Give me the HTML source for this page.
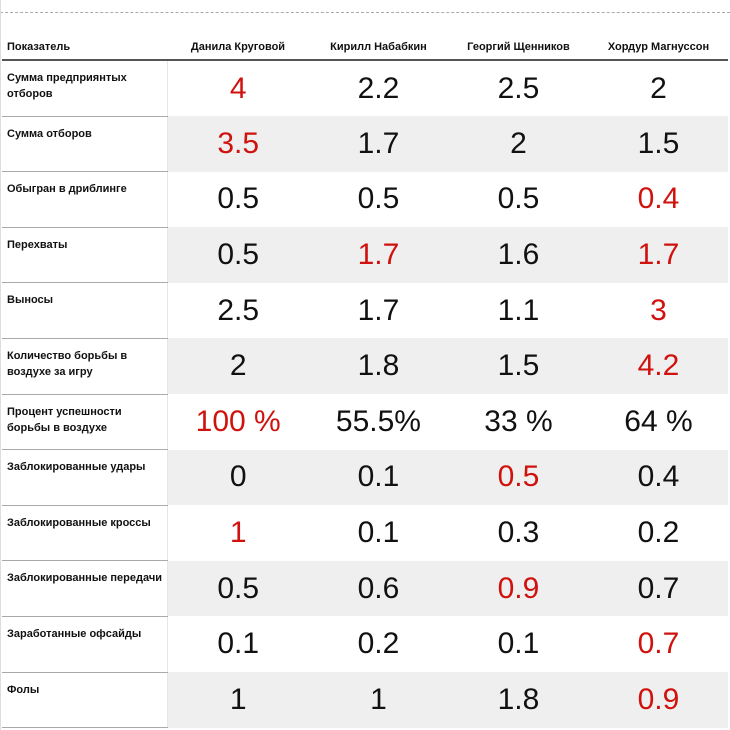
<!DOCTYPE html>
<html><head><meta charset="utf-8"><style>
body{margin:0;width:730px;height:730px;background:#fff;overflow:hidden;font-family:"Liberation Sans","DejaVu Sans",sans-serif;position:relative}
.dots{position:absolute;left:0;top:12px;width:730px;border-top:1px dashed #aaa}
.vl{position:absolute;left:0;top:0;width:1px;height:730px;background:#ddd}
table{position:absolute;left:2px;top:35px;border-collapse:collapse;table-layout:fixed}
th{font-size:11px;font-weight:bold;color:#111;height:24px;text-align:center;border-bottom:2px solid #555;padding:0}
th.l{text-align:left;padding-left:5px}
td{padding:0;text-align:center;font-size:30px;color:#111;font-weight:300}
td.l{text-align:left;vertical-align:top;font-size:11px;font-weight:bold;padding:9px 5px 0 5px;border-bottom:1px solid #aaa;border-right:1px solid #e6e6e6;height:45.6px;line-height:16px;white-space:nowrap;overflow:hidden}
tr.g td:not(.l){background:#efefef}
.r{color:#d0120e}
</style></head><body>
<div class="dots"></div>
<div class="vl"></div>
<table>
<colgroup><col style="width:164px"><col style="width:141px"><col style="width:140px"><col style="width:140px"><col style="width:140px"></colgroup>
<tr><th class="l">Показатель</th><th>Данила Круговой</th><th>Кирилл Набабкин</th><th>Георгий Щенников</th><th>Хордур Магнуссон</th></tr>
<tr><td class="l">Сумма предприянтых<br>отборов</td><td class="r">4</td><td>2.2</td><td>2.5</td><td>2</td></tr>
<tr class="g"><td class="l">Сумма отборов</td><td class="r">3.5</td><td>1.7</td><td>2</td><td>1.5</td></tr>
<tr><td class="l">Обыгран в дриблинге</td><td>0.5</td><td>0.5</td><td>0.5</td><td class="r">0.4</td></tr>
<tr class="g"><td class="l">Перехваты</td><td>0.5</td><td class="r">1.7</td><td>1.6</td><td class="r">1.7</td></tr>
<tr><td class="l">Выносы</td><td>2.5</td><td>1.7</td><td>1.1</td><td class="r">3</td></tr>
<tr class="g"><td class="l">Количество борьбы в<br>воздухе за игру</td><td>2</td><td>1.8</td><td>1.5</td><td class="r">4.2</td></tr>
<tr><td class="l">Процент успешности<br>борьбы в воздухе</td><td class="r">100 %</td><td>55.5%</td><td>33 %</td><td>64 %</td></tr>
<tr class="g"><td class="l">Заблокированные удары</td><td>0</td><td>0.1</td><td class="r">0.5</td><td>0.4</td></tr>
<tr><td class="l">Заблокированные кроссы</td><td class="r">1</td><td>0.1</td><td>0.3</td><td>0.2</td></tr>
<tr class="g"><td class="l">Заблокированные передачи</td><td>0.5</td><td>0.6</td><td class="r">0.9</td><td>0.7</td></tr>
<tr><td class="l">Заработанные офсайды</td><td>0.1</td><td>0.2</td><td>0.1</td><td class="r">0.7</td></tr>
<tr class="g"><td class="l">Фолы</td><td>1</td><td>1</td><td>1.8</td><td class="r">0.9</td></tr>
</table>
</body></html>
